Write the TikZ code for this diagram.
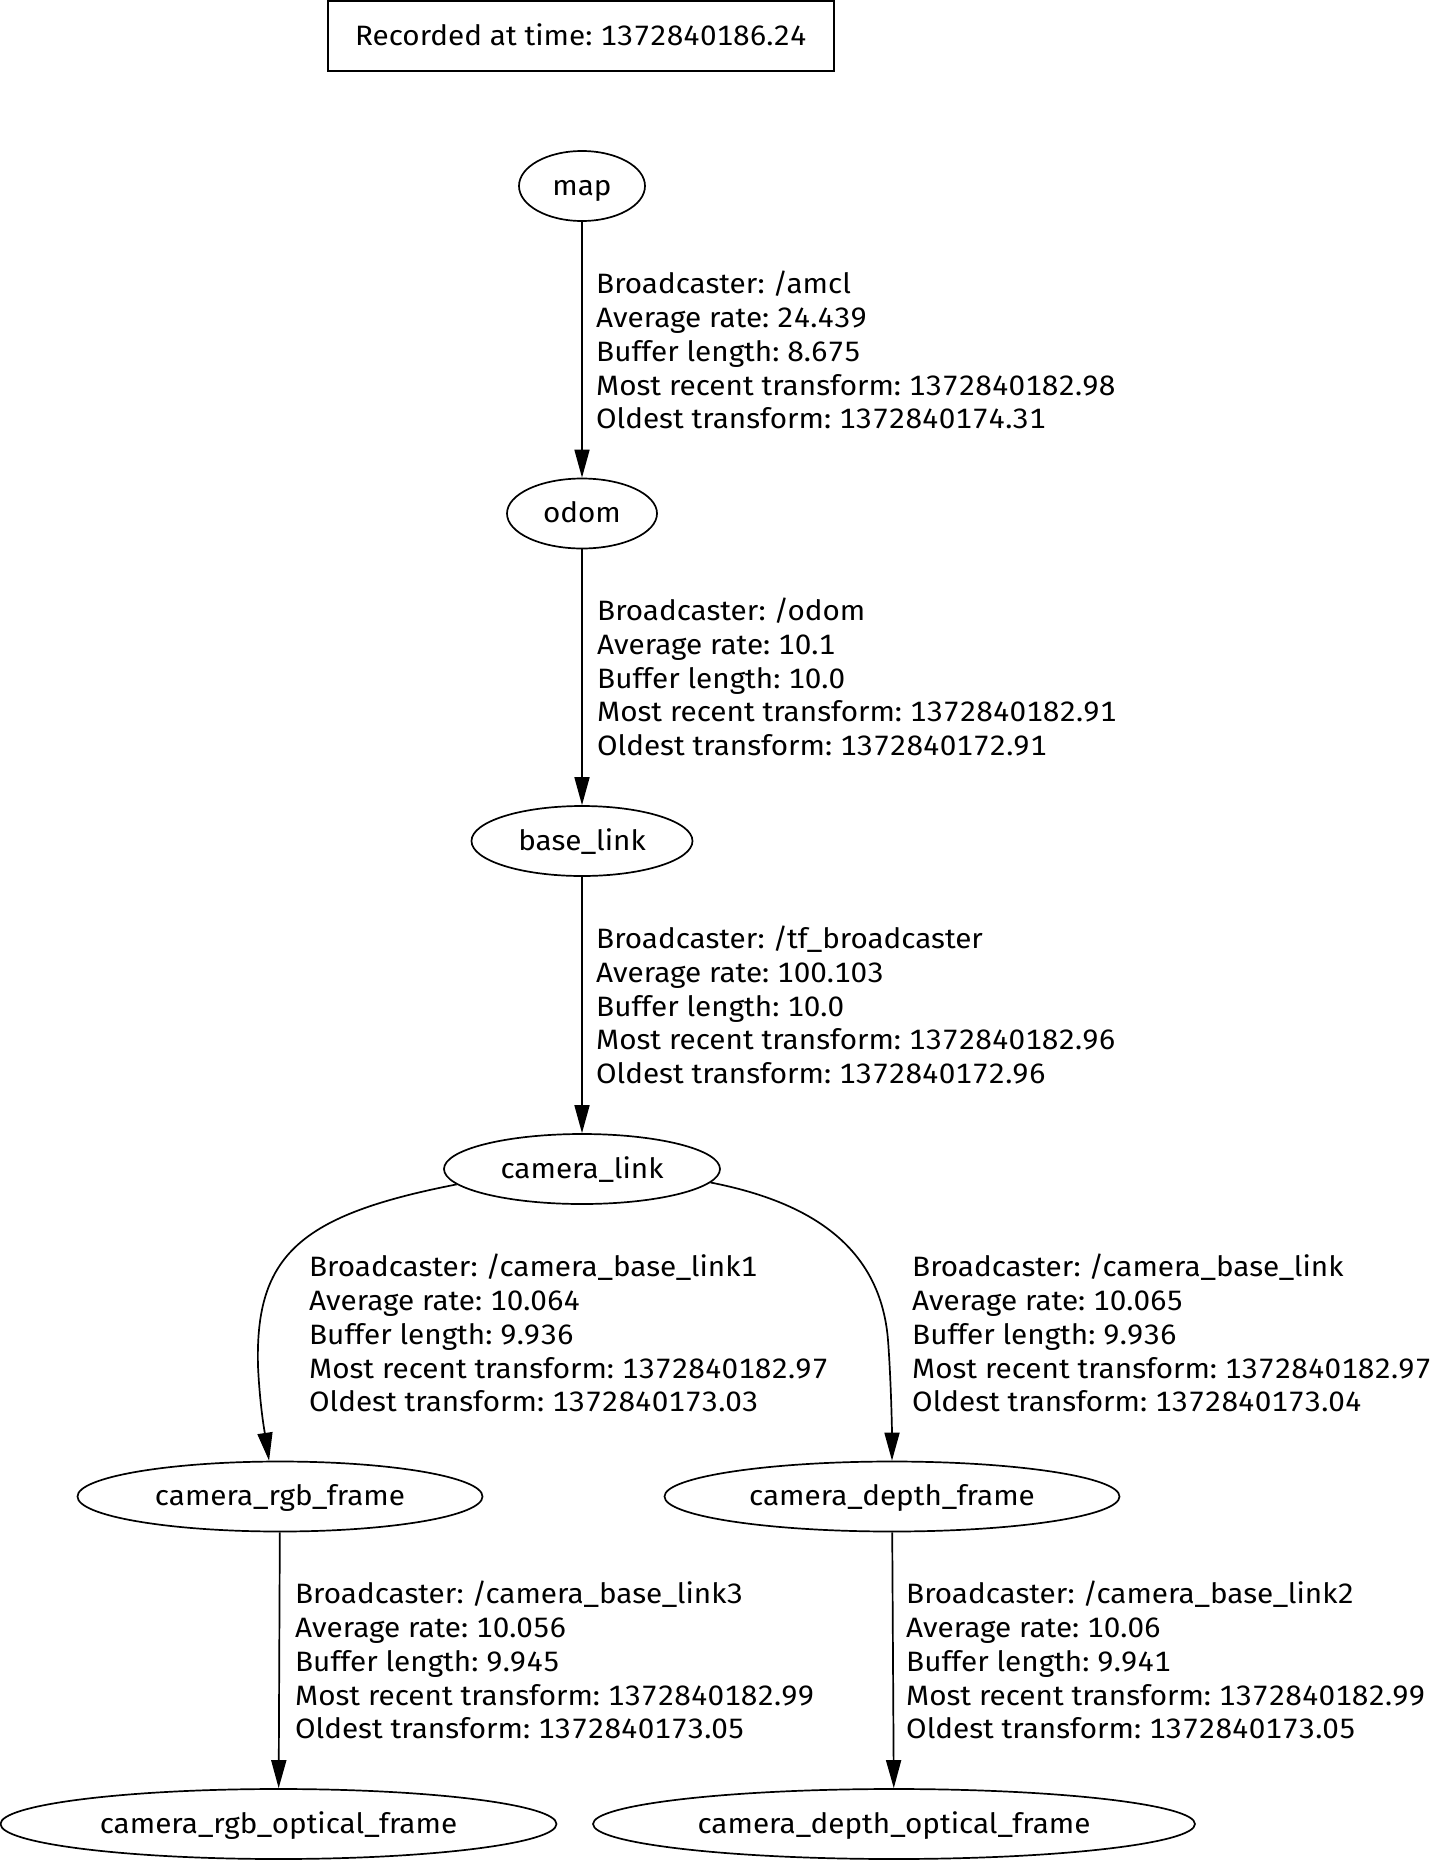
\documentclass[tikz,border=0pt]{standalone}
\usepackage{fontspec}
\setmainfont[Numbers=Monospaced,FakeStretch=1.06]{Fira Sans}
\usetikzlibrary{arrows.meta,shapes.geometric,calc}
\frenchspacing
\begin{document}
\begin{tikzpicture}[x=1pt,y=-1pt,
  lw/.style={line width=1.7pt},
  txt/.style={font=\fontsize{28}{33.9}\selectfont},
  frame/.style={draw,ellipse,lw,txt,inner xsep=-80pt,inner ysep=0pt,
    text height=22pt,text depth=4pt,minimum height=70pt},
  lbl/.style={txt,align=left,anchor=west,inner sep=0pt},
  edge/.style={lw,-{Triangle[length=28pt,width=15pt]}},
  titlebox/.style={draw,rectangle,lw,txt,minimum width=506pt,minimum height=70pt,inner sep=0pt,
    text height=22pt,text depth=4pt}
]
\useasboundingbox (0,0) rectangle (1435,1863);
\node[titlebox] (title) at (581,36) {Recorded at time: 1372840186.24};

\node[frame,minimum width=126pt] (map) at (582,186) {map};
\node[frame,minimum width=150pt] (odom) at (582,513.5) {odom};
\node[frame,minimum width=221pt] (base) at (582,841) {base\_link};
\node[frame,minimum width=276pt] (cl) at (582,1169) {camera\_link};
\node[frame,minimum width=405pt] (rgb) at (280,1496.5) {camera\_rgb\_frame};
\node[frame,minimum width=455pt] (dep) at (892,1496.5) {camera\_depth\_frame};
\node[frame,minimum width=556pt] (rgbo) at (278.5,1824) {camera\_rgb\_optical\_frame};
\node[frame,minimum width=602pt] (depo) at (894,1824) {camera\_depth\_optical\_frame};

\draw[edge] (map) -- (odom);
\draw[edge] (odom) -- (base);
\draw[edge] (base) -- (cl);
\draw[edge] (cl.187) .. controls (300,1215) and (255,1255) .. (258,1366)
   .. controls (260,1410) and (266,1440) .. (rgb.107);
\draw[edge] (cl.354) .. controls (800,1200) and (880,1240) .. (888,1340)
   .. controls (891,1380) and (892,1430) .. (dep.north);
\draw[edge] (rgb) -- (rgbo);
\draw[edge] (dep) -- (depo);

\node[lbl] (l1) at (596,350) {Broadcaster: /amcl\\Average rate: 24.439\\Buffer length: 8.675\\Most recent transform: 1372840182.98\\Oldest transform: 1372840174.31};
\node[lbl] (l2) at (597,677) {Broadcaster: /odom\\Average rate: 10.1\\Buffer length: 10.0\\Most recent transform: 1372840182.91\\Oldest transform: 1372840172.91};
\node[lbl] (l3) at (596,1005) {Broadcaster: /tf\_broadcaster\\Average rate: 100.103\\Buffer length: 10.0\\Most recent transform: 1372840182.96\\Oldest transform: 1372840172.96};
\node[lbl] (l4) at (309,1333) {Broadcaster: /camera\_base\_link1\\Average rate: 10.064\\Buffer length: 9.936\\Most recent transform: 1372840182.97\\Oldest transform: 1372840173.03};
\node[lbl] (l5) at (912,1333) {Broadcaster: /camera\_base\_link\\Average rate: 10.065\\Buffer length: 9.936\\Most recent transform: 1372840182.97\\Oldest transform: 1372840173.04};
\node[lbl] (l6) at (295,1660) {Broadcaster: /camera\_base\_link3\\Average rate: 10.056\\Buffer length: 9.945\\Most recent transform: 1372840182.99\\Oldest transform: 1372840173.05};
\node[lbl] (l7) at (906,1660) {Broadcaster: /camera\_base\_link2\\Average rate: 10.06\\Buffer length: 9.941\\Most recent transform: 1372840182.99\\Oldest transform: 1372840173.05};
\end{tikzpicture}
\end{document}
